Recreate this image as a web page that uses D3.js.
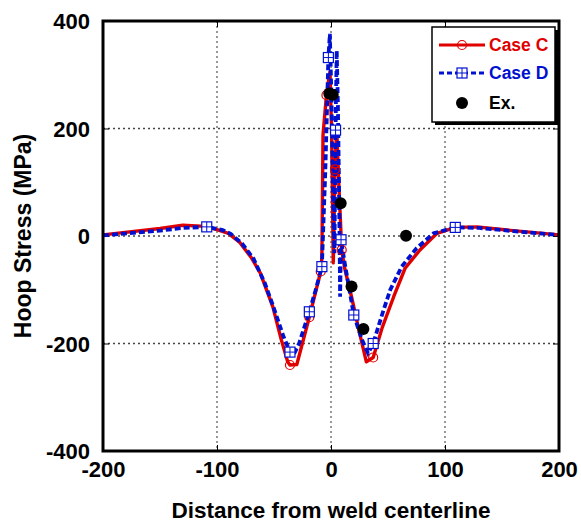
<!DOCTYPE html>
<html>
<head>
<meta charset="utf-8">
<script src="https://cdn.jsdelivr.net/npm/d3@7"></script>
<style>
  body { margin: 0; background: #fff; }
  text { font-family: Arial, "Liberation Sans", sans-serif; font-weight: bold; }
</style>
</head>
<body>
<div id="chart"></div>
<script>
// Case C (red, solid) - [distance, stress]
const caseC = [
  [-200, 2], [-150, 14], [-130, 20], [-110, 18], [-100, 12], [-90, 5], [-80, -12],
  [-70, -40], [-62, -69], [-51, -132], [-44, -190], [-38, -234], [-36, -240],
  [-30, -239], [-19, -151], [-9, -66], [-8, -40], [-7, 188], [-4, 262], [-1, 305],
  [0.5, 200], [2, -50], [3.5, 124], [5, 200], [7, 90], [9.4, -26], [12, -60],
  [18, -113], [25, -180], [31, -234], [37, -226], [45, -170], [55, -113], [65, -60],
  [78, -26], [93, 5], [109, 16], [128, 17], [150, 12], [200, 2]
]
const caseCMarks = [[-36, -240], [-19, -151], [-9, -66], [-4, 262], [3.5, 124], [9.4, -26], [37, -226]]

// Case D (blue, dashed)
const caseD = [
  [-200, 1], [-150, 10], [-130, 15], [-109, 17], [-95, 11], [-88, 4], [-78, -14],
  [-68, -42], [-58, -88], [-50, -135], [-42, -185], [-36, -216], [-33, -222],
  [-28, -200], [-19, -141], [-13, -97], [-8, -57], [-5, 120], [-2.3, 332], [-1, 376],
  [0.5, 250], [2, 60], [3, -32], [4, 197], [5, 345], [6, 250], [7, 100], [8, -113],
  [8.8, -7], [12, -50], [20, -147], [27, -192], [32.5, -218], [37, -200], [45, -145],
  [52, -100], [62, -57], [75, -23], [90, 5], [109, 16], [130, 15], [160, 9], [200, 2]
]
const caseDMarks = [[-109, 17], [-36, -216], [-19, -141], [-8, -57], [-2.3, 332], [4, 197], [8.8, -7], [20, -147], [37, -200], [109, 16]]

// Experiment
const experiment = [[-1.5, 265], [1.5, 263], [8.5, 61], [18, -94], [28.4, -173], [65.8, 0.5]]

const xTicks = [-200, -100, 0, 100, 200]
const yTicks = [-400, -200, 0, 200, 400]

const width = 581
const height = 527
const margin = { top: 21, right: 22, bottom: 76, left: 103 }
const innerW = width - margin.left - margin.right
const innerH = height - margin.top - margin.bottom

const svg = d3.select('#chart')
  .append('svg')
  .attr('width', width)
  .attr('height', height)

const g = svg.append('g')
  .attr('transform', `translate(${margin.left}, ${margin.top})`)

const x = d3.scaleLinear().domain([-200, 200]).range([0, innerW])
const y = d3.scaleLinear().domain([-400, 400]).range([innerH, 0])

// grid
g.append('g')
  .selectAll('line')
  .data(xTicks.slice(1, -1))
  .join('line')
  .attr('x1', (d) => x(d)).attr('x2', (d) => x(d))
  .attr('y1', 0).attr('y2', innerH)
  .attr('stroke', '#777').attr('stroke-width', 1.5).attr('stroke-dasharray', '2,3')

g.append('g')
  .selectAll('line')
  .data(yTicks.slice(1, -1))
  .join('line')
  .attr('x1', 0).attr('x2', innerW)
  .attr('y1', (d) => y(d)).attr('y2', (d) => y(d))
  .attr('stroke', '#444').attr('stroke-width', 1.5).attr('stroke-dasharray', '2,3')

// axes with inward ticks, plain hyphen for negatives
const fmt = (d) => String(d)
const axisB = g.append('g')
  .attr('transform', `translate(0, ${innerH})`)
  .call(d3.axisBottom(x).tickValues(xTicks).tickSize(-6).tickPadding(11).tickFormat(fmt))
const axisT = g.append('g')
  .call(d3.axisTop(x).tickValues(xTicks).tickSize(-6).tickFormat(''))
const axisL = g.append('g')
  .call(d3.axisLeft(y).tickValues(yTicks).tickSize(-6).tickPadding(13).tickFormat(fmt))
const axisR = g.append('g')
  .attr('transform', `translate(${innerW}, 0)`)
  .call(d3.axisRight(y).tickValues(yTicks).tickSize(-6).tickFormat(''))

for (const a of [axisB, axisT, axisL, axisR]) {
  a.select('.domain').remove()
  a.selectAll('.tick line').attr('stroke', '#000').attr('stroke-width', 1)
  a.selectAll('text').style('font-size', '22px').attr('fill', '#000')
    .style('font-family', 'Arial, "Liberation Sans", sans-serif').style('font-weight', 'bold')
}
axisL.selectAll('text').attr('dy', '0.36em')
axisB.selectAll('text').attr('dy', '0.7em')

const line = d3.line()
  .x((d) => x(d[0]))
  .y((d) => y(d[1]))

const plot = g.append('g')

plot.append('path')
  .attr('d', line(caseC))
  .attr('fill', 'none')
  .attr('stroke', '#e00000')
  .attr('stroke-width', 3.4)
  .attr('stroke-linejoin', 'round')

plot.append('path')
  .attr('d', line(caseD))
  .attr('fill', 'none')
  .attr('stroke', '#0010d0')
  .attr('stroke-width', 3.8)
  .attr('stroke-dasharray', '6,3')

const drawCircle = (sel, cx, cy) => {
  sel.append('circle')
    .attr('cx', cx).attr('cy', cy).attr('r', 4.5)
    .attr('fill', 'none').attr('stroke', '#e00000').attr('stroke-width', 1.2)
}

const drawSquare = (sel, cx, cy) => {
  const s = 5
  const m = sel.append('g').attr('transform', `translate(${cx}, ${cy})`)
  m.append('rect').attr('x', -s).attr('y', -s).attr('width', 2 * s).attr('height', 2 * s)
    .attr('fill', '#fff').attr('stroke', '#0010d0').attr('stroke-width', 1.2)
  m.append('path').attr('d', `M${-s},0H${s}M0,${-s}V${s}`)
    .attr('stroke', '#0010d0').attr('stroke-width', 1)
}

caseCMarks.forEach((d) => drawCircle(plot, x(d[0]), y(d[1])))
caseDMarks.forEach((d) => drawSquare(plot, x(d[0]), y(d[1])))

plot.selectAll('.exp')
  .data(experiment)
  .join('circle')
  .attr('class', 'exp')
  .attr('cx', (d) => x(d[0]))
  .attr('cy', (d) => y(d[1]))
  .attr('r', 6)
  .attr('fill', '#000')

// frame
g.append('rect')
  .attr('width', innerW).attr('height', innerH)
  .attr('fill', 'none').attr('stroke', '#000').attr('stroke-width', 3)

// legend
const lg = g.append('g').attr('transform', `translate(${432 - margin.left}, ${27 - margin.top})`)
lg.append('rect').attr('x', 3).attr('y', 3).attr('width', 123).attr('height', 95).attr('fill', '#000')
lg.append('rect').attr('width', 123).attr('height', 95)
  .attr('fill', '#fff').attr('stroke', '#000').attr('stroke-width', 1.5)

lg.append('line').attr('x1', 7).attr('x2', 53).attr('y1', 18).attr('y2', 18)
  .attr('stroke', '#e00000').attr('stroke-width', 3)
drawCircle(lg, 30, 18)
lg.append('text').attr('x', 57).attr('y', 18).attr('dy', '0.35em')
  .attr('fill', '#e00000').style('font-size', '17.5px').text('Case C')

lg.append('line').attr('x1', 7).attr('x2', 53).attr('y1', 46).attr('y2', 46)
  .attr('stroke', '#0010d0').attr('stroke-width', 3).attr('stroke-dasharray', '5,3')
drawSquare(lg, 30, 46)
lg.append('text').attr('x', 57).attr('y', 46).attr('dy', '0.35em')
  .attr('fill', '#0010d0').style('font-size', '17.5px').text('Case D')

lg.append('circle').attr('cx', 30).attr('cy', 76).attr('r', 6).attr('fill', '#000')
lg.append('text').attr('x', 57).attr('y', 76).attr('dy', '0.35em')
  .attr('fill', '#000').style('font-size', '17.5px').text('Ex.')

// axis titles
svg.append('text')
  .attr('x', margin.left + x(0))
  .attr('y', 510)
  .attr('dy', '0.35em')
  .attr('text-anchor', 'middle')
  .style('font-size', '22.5px')
  .text('Distance from weld centerline')

svg.append('text')
  .attr('transform', `translate(23, ${margin.top + y(0)}) rotate(-90)`)
  .attr('dy', '0.35em')
  .attr('text-anchor', 'middle')
  .style('font-size', '23px')
  .text('Hoop Stress (MPa)')
</script>
</body>
</html>
